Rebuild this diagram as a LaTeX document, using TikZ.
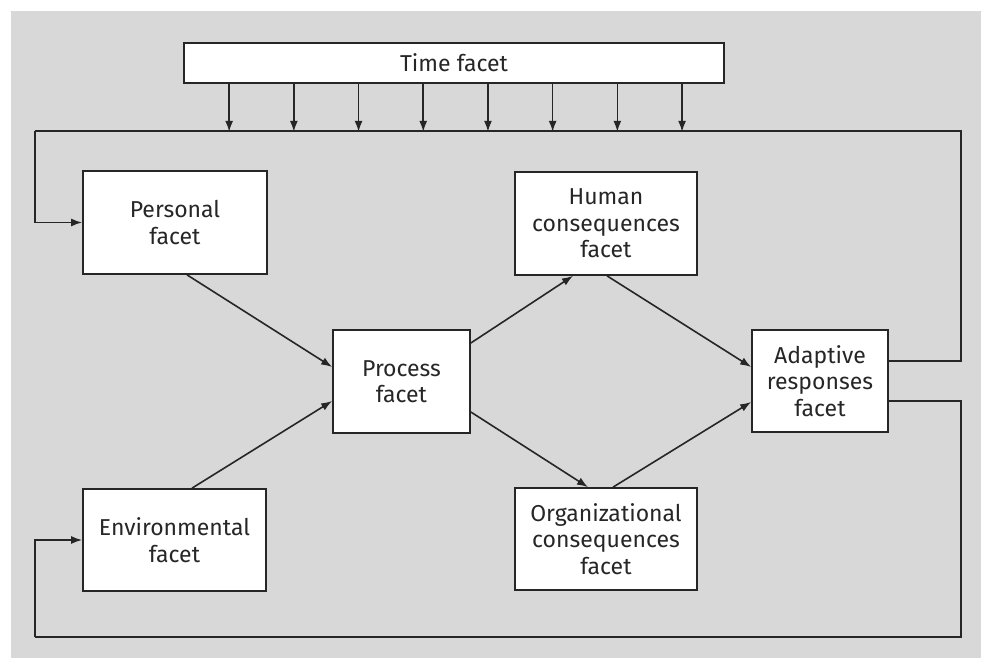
\documentclass[tikz,border=0pt]{standalone}
\usepackage{fontspec}
\setmainfont{Fira Sans}
\usetikzlibrary{arrows.meta}
\definecolor{paper}{HTML}{D8D8D8}

\begin{document}
\begin{tikzpicture}[x=1pt,y=-1pt,
  facet/.style={draw=black!85,fill=white,line width=1.7pt,align=center,
    inner sep=0pt,text=black!85,font=\fontsize{23}{26.5}\selectfont},
  flow/.style={draw=black!85,line width=1.6pt,-{Latex[length=11pt,width=8pt]}},
  loop/.style={draw=black!85,line width=1.6pt}]
\useasboundingbox (0,0) rectangle (981,658);
\fill [paper] (11,11) rectangle (981,658);
\node [facet,minimum width=540pt,minimum height=40pt] (time) at (454,63) {Time facet};
\node [facet,minimum width=184pt,minimum height=103pt] (personal) at (175,222.5) {Personal\\facet};
\node [facet,minimum width=183pt,minimum height=102pt] (env) at (174.5,540) {Environmental\\facet};
\node [facet,minimum width=137pt,minimum height=103pt] (process) at (401.5,381.5) {Process\\facet};
\node [facet,minimum width=182pt,minimum height=103pt] (human) at (606,223.5) {Human\\consequences\\facet};
\node [facet,minimum width=182pt,minimum height=102pt] (org) at (606,539) {Organizational\\consequences\\facet};
\node [facet,minimum width=136pt,minimum height=102pt] (adaptive) at (820,381) {Adaptive\\responses\\facet};
\coordinate (nw) at (35,131);
\coordinate (ne) at (961,131);
\coordinate (sw) at (35,637);
\coordinate (se) at (961,637);
\foreach \i in {0,...,7}
  \draw [flow] ([xshift={46pt+64.7pt*\i}]time.south west) -- +(0,48);
\draw [flow] ([xshift=12pt]personal.south) -- ([yshift=14.5pt]process.west);
\draw [flow] ([xshift=17.5pt]env.north) -- ([yshift=-19.5pt]process.west);
\draw [flow] ([yshift=38.5pt]process.east) -- ([xshift=-33pt]human.south);
\draw [flow] ([yshift=-30.5pt]process.east) -- ([xshift=-18pt]org.north);
\draw [flow] ([xshift=1pt]human.south) -- ([yshift=14pt]adaptive.west);
\draw [flow] ([xshift=7pt]org.north) -- ([yshift=-21pt]adaptive.west);
\draw [loop] ([yshift=20pt]adaptive.east) -| (ne) -- (nw);
\draw [flow] (nw) |- (personal.west);
\draw [loop] ([yshift=-20pt]adaptive.east) -| (se) -- (sw);
\draw [flow] (sw) |- (env.west);
\end{tikzpicture}
\end{document}
